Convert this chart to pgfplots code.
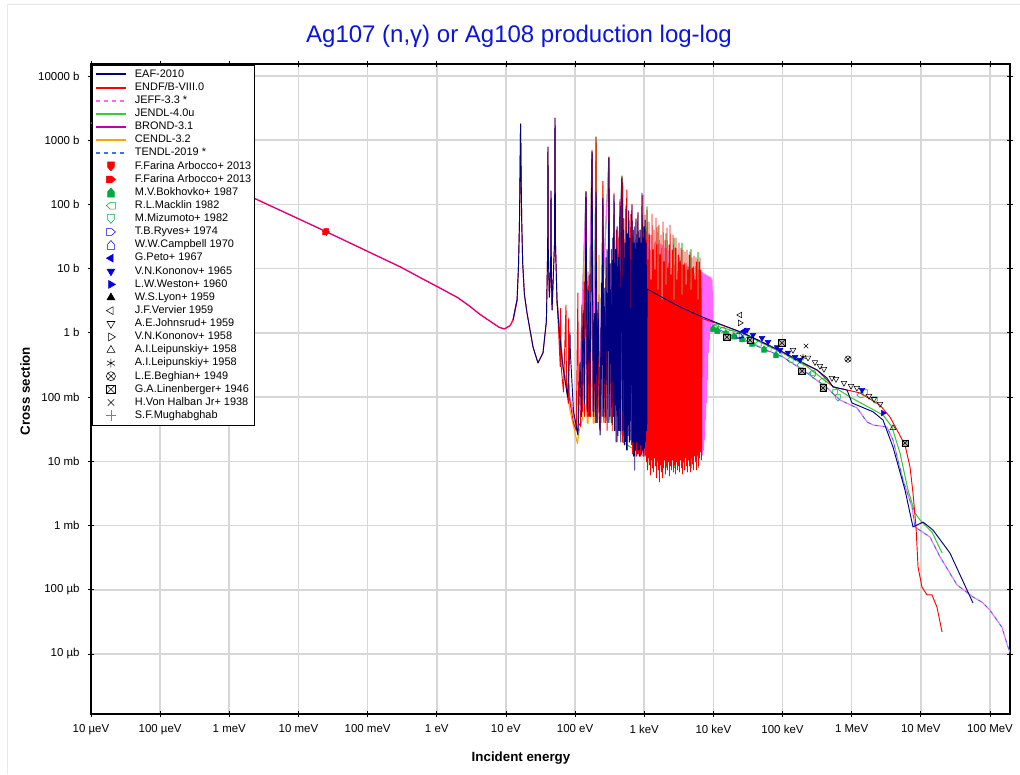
\documentclass[border=0pt]{standalone}
\usepackage{fontspec}
\setmainfont{Liberation Sans}
\usepackage{pgfplots}
\pgfplotsset{compat=1.18}
\usetikzlibrary{plotmarks}

\definecolor{eafc}{RGB}{0,0,128}
\definecolor{jeffc}{RGB}{255,102,255}
\definecolor{jendlc}{RGB}{60,200,60}
\definecolor{brondc}{RGB}{190,0,170}
\definecolor{cendlc}{RGB}{255,165,0}
\definecolor{tendlc}{RGB}{70,110,230}
\definecolor{ttl}{RGB}{10,20,220}
\definecolor{mgreen}{RGB}{0,170,60}
\definecolor{mblue}{RGB}{0,0,230}
\definecolor{gridc}{RGB}{215,215,215}

% pentagon "house" marks, rotated for the other directions
\pgfdeclareplotmark{house}{%
  \pgfpathmoveto{\pgfqpoint{-0.75\pgfplotmarksize}{-\pgfplotmarksize}}%
  \pgfpathlineto{\pgfqpoint{0.75\pgfplotmarksize}{-\pgfplotmarksize}}%
  \pgfpathlineto{\pgfqpoint{0.75\pgfplotmarksize}{0.15\pgfplotmarksize}}%
  \pgfpathlineto{\pgfqpoint{0pt}{\pgfplotmarksize}}%
  \pgfpathlineto{\pgfqpoint{-0.75\pgfplotmarksize}{0.15\pgfplotmarksize}}%
  \pgfpathclose
  \pgfusepathqstroke}
\pgfdeclareplotmark{house*}{%
  \pgfpathmoveto{\pgfqpoint{-0.75\pgfplotmarksize}{-\pgfplotmarksize}}%
  \pgfpathlineto{\pgfqpoint{0.75\pgfplotmarksize}{-\pgfplotmarksize}}%
  \pgfpathlineto{\pgfqpoint{0.75\pgfplotmarksize}{0.15\pgfplotmarksize}}%
  \pgfpathlineto{\pgfqpoint{0pt}{\pgfplotmarksize}}%
  \pgfpathlineto{\pgfqpoint{-0.75\pgfplotmarksize}{0.15\pgfplotmarksize}}%
  \pgfpathclose
  \pgfusepathqfillstroke}
\pgfdeclareplotmark{boxx}{%
  \pgfpathrectangle{\pgfqpoint{-\pgfplotmarksize}{-\pgfplotmarksize}}{\pgfqpoint{2\pgfplotmarksize}{2\pgfplotmarksize}}%
  \pgfusepathqfillstroke
  \pgfpathmoveto{\pgfqpoint{-\pgfplotmarksize}{-\pgfplotmarksize}}%
  \pgfpathlineto{\pgfqpoint{\pgfplotmarksize}{\pgfplotmarksize}}%
  \pgfpathmoveto{\pgfqpoint{-\pgfplotmarksize}{\pgfplotmarksize}}%
  \pgfpathlineto{\pgfqpoint{\pgfplotmarksize}{-\pgfplotmarksize}}%
  \pgfusepathqstroke}

\pgfplotsset{
  legline/.style={legend image code/.code={\draw[##1] (0pt,0pt) -- (22.5pt,0pt);}},
  legmark/.style={legend image code/.code={\draw[only marks,##1] plot coordinates {(11.25pt,0pt)};}},
  xs/.style={line width=0.8pt, line join=round},
  dat/.style={only marks, mark size=2.4pt},
}

\begin{document}
\begin{tikzpicture}
\path[use as bounding box] (0,0) rectangle (765pt,580.5pt);
\draw[gray!18, line width=0.75pt] (5.25pt,0pt) -- (5.25pt,576.75pt) -- (765pt,576.75pt);

\begin{axis}[
  at={(68.25pt,45pt)}, anchor=south west,
  scale only axis, width=689.25pt, height=487.5pt,
  xmode=log, ymode=log,
  xmin=1e-5, xmax=1.95e8, ymin=1.16e-6, ymax=1.54e4,
  xtick={1e-5,1e-4,1e-3,1e-2,1e-1,1,1e1,1e2,1e3,1e4,1e5,1e6,1e7,1e8},
  xticklabels={10 µeV,100 µeV,1 meV,10 meV,100 meV,1 eV,10 eV,100 eV,1 keV,10 keV,100 keV,1 MeV,10 MeV,100 MeV},
  ytick={1e-5,1e-4,1e-3,1e-2,1e-1,1,1e1,1e2,1e3,1e4},
  yticklabels={10 µb,100 µb,1 mb,10 mb,100 mb,1 b,10 b,100 b,1000 b,10000 b},
  xminorticks=false, yminorticks=false,
  grid=major, major grid style={gridc, line width=1.2pt},
  tick align=center, major tick length=5pt,
  tick style={black, line width=0.6pt},
  axis line style={line width=1pt},
  tick label style={font=\fontsize{8.6}{10}\selectfont},
  xticklabel style={yshift=-2pt},
  yticklabel style={xshift=-2.5pt},
  legend style={at={(0,1)}, anchor=north west, xshift=0.75pt, yshift=-0.75pt,
    draw=black, fill=white,
    font=\fontsize{8.2}{9.8}\selectfont,
    inner xsep=2pt, inner ysep=2pt, row sep=0pt, column sep=6pt,
    nodes={inner sep=0pt, text height=7pt, text depth=2.84pt}},
  legend cell align=left,
]

% ---------- legend ----------
\addlegendimage{legline, color=eafc, line width=1.5pt}\addlegendentry{EAF-2010}
\addlegendimage{legline, color=red, line width=1.5pt}\addlegendentry{ENDF/B-VIII.0}
\addlegendimage{legline, color=jeffc, dashed, line width=1.5pt}\addlegendentry{JEFF-3.3 *}
\addlegendimage{legline, color=jendlc, line width=1.5pt}\addlegendentry{JENDL-4.0u}
\addlegendimage{legline, color=brondc, line width=1.5pt}\addlegendentry{BROND-3.1}
\addlegendimage{legline, color=cendlc, line width=1.5pt}\addlegendentry{CENDL-3.2}
\addlegendimage{legline, color=tendlc, dashed, line width=1.5pt}\addlegendentry{TENDL-2019 *}
\addlegendimage{legmark, mark=house*, mark size=3.4pt, mark options={rotate=180, draw=red, fill=red}}\addlegendentry{F.Farina Arbocco+ 2013}
\addlegendimage{legmark, mark=house*, mark size=3.4pt, mark options={rotate=-90, draw=red, fill=red}}\addlegendentry{F.Farina Arbocco+ 2013}
\addlegendimage{legmark, mark=house*, mark size=3.4pt, mark options={draw=mgreen, fill=mgreen}}\addlegendentry{M.V.Bokhovko+ 1987}
\addlegendimage{legmark, mark=house, mark size=3.4pt, mark options={rotate=90, draw=mgreen}}\addlegendentry{R.L.Macklin 1982}
\addlegendimage{legmark, mark=house, mark size=3.4pt, mark options={rotate=180, draw=mgreen}}\addlegendentry{M.Mizumoto+ 1982}
\addlegendimage{legmark, mark=house, mark size=3.4pt, mark options={rotate=-90, draw=mblue}}\addlegendentry{T.B.Ryves+ 1974}
\addlegendimage{legmark, mark=house, mark size=3.4pt, mark options={draw=mblue}}\addlegendentry{W.W.Campbell 1970}
\addlegendimage{legmark, mark=triangle*, mark size=3.4pt, mark options={rotate=90, draw=mblue, fill=mblue}}\addlegendentry{G.Peto+ 1967}
\addlegendimage{legmark, mark=triangle*, mark size=3.4pt, mark options={rotate=180, draw=mblue, fill=mblue}}\addlegendentry{V.N.Kononov+ 1965}
\addlegendimage{legmark, mark=triangle*, mark size=3.4pt, mark options={rotate=-90, draw=mblue, fill=mblue}}\addlegendentry{L.W.Weston+ 1960}
\addlegendimage{legmark, mark=triangle*, mark size=3.4pt, mark options={draw=black, fill=black}}\addlegendentry{W.S.Lyon+ 1959}
\addlegendimage{legmark, mark=triangle, mark size=3.4pt, mark options={rotate=90, draw=black}}\addlegendentry{J.F.Vervier 1959}
\addlegendimage{legmark, mark=triangle, mark size=3.4pt, mark options={rotate=180, draw=black}}\addlegendentry{A.E.Johnsrud+ 1959}
\addlegendimage{legmark, mark=triangle, mark size=3.4pt, mark options={rotate=-90, draw=black}}\addlegendentry{V.N.Kononov+ 1958}
\addlegendimage{legmark, mark=triangle, mark size=3.4pt, mark options={draw=black}}\addlegendentry{A.I.Leipunskiy+ 1958}
\addlegendimage{legmark, mark=asterisk, mark size=3.4pt, mark options={draw=black}}\addlegendentry{A.I.Leipunskiy+ 1958}
\addlegendimage{legmark, mark=otimes, mark size=3.4pt, mark options={draw=black}}\addlegendentry{L.E.Beghian+ 1949}
\addlegendimage{legmark, mark=boxx, mark size=3.2pt, mark options={draw=black, fill=white}}\addlegendentry{G.A.Linenberger+ 1946}
\addlegendimage{legmark, mark=x, mark size=3.4pt, mark options={draw=black}}\addlegendentry{H.Von Halban Jr+ 1938}
\addlegendimage{legmark, mark=+, mark size=4pt, mark options={draw=gray}}\addlegendentry{S.F.Mughabghab}

% ---------- high energy dashed (TENDL / JEFF) ----------
\addplot[forget plot, xs, color=tendlc, dashed] coordinates {
(9880,1.24) (2.68e4,0.77) (1.02e5,0.42) (2.26e5,0.237) (4.4e5,0.139) (6.79e5,0.090)
(1.19e6,0.068) (1.67e6,0.041) (2.04e6,0.0368) (3.24e6,0.0342) (3.96e6,0.0215)
(5.53e6,0.00512) (7.46e6,0.00195) (8.24e6,0.00095) (1.36e7,0.00066) (1.9e7,0.000324)
(3.34e7,0.000119) (5.69e7,7.7e-5) (7.67e7,6.4e-5) (1e8,4.8e-5) (1.49e8,2.6e-5)
(1.82e8,1.29e-5) (2.08e8,9e-6)};
\addplot[forget plot, xs, color=jeffc, dash pattern=on 3pt off 3pt, dash phase=3pt] coordinates {
(9880,1.24) (2.68e4,0.77) (1.02e5,0.42) (2.26e5,0.237) (4.4e5,0.139) (6.79e5,0.090)
(1.19e6,0.068) (1.67e6,0.041) (2.04e6,0.0368) (3.24e6,0.0342) (3.96e6,0.0215)
(5.53e6,0.00512) (7.46e6,0.00195) (8.24e6,0.00095) (1.36e7,0.00066) (1.9e7,0.000324)
(3.34e7,0.000119) (5.69e7,7.7e-5) (7.67e7,6.4e-5) (1e8,4.8e-5) (1.49e8,2.6e-5)
(1.82e8,1.29e-5) (2.08e8,9e-6)};

% ---------- CENDL resonances ----------
\addplot[forget plot, xs, color=cendlc] coordinates {
(54.8,3.25) (67,0.28) (85,0.06) (108,0.019) (115,0.03) (130,0.05) (144,150) (150,0.04)
(154,0.039) (176,600) (183,0.04) (188,0.039) (201,900) (208,0.05) (216,0.08) (222,16.3)
(228,0.08) (240,0.04) (253,200) (262,0.04)};

% ---------- JENDL ----------
\addplot[forget plot, xs, color=jendlc] coordinates {
(54.8,3.25) (67,0.29) (110,0.026) (144,158) (150,0.05) (176,670) (184,0.05) (201,1130)
(208,0.04) (309,540) (318,0.04) (477,270) (490,0.02) (1000,0.012) (1098,92) (1117,0.008)
(1584,45) (1611,0.008) (2067,35) (2102,0.008) (2698,30) (2744,0.008) (3521,25) (3581,0.008)
(4750,20) (4831,0.008) (5995,18) (6097,0.008) (6200,1.78) (9880,1.33) (2.68e4,0.97)
(1.02e5,0.48) (2.26e5,0.30) (4.4e5,0.17) (9.46e5,0.10) (2.84e6,0.0526) (3.83e6,0.0342)
(5.0e6,0.0135) (6.53e6,0.00357) (8.24e6,0.00157) (9.73e6,0.00122) (1.45e7,0.00079)
(2.03e7,0.000373)};

% ---------- JEFF resonances (mostly hidden, visible 6.5-9.5 keV) ----------
\addplot[forget plot, xs, color=jeffc] coordinates {
(54.8,3.25) (67,0.29) (110,0.027) (144,140) (150,0.06) (176,600) (183,0.06) (201,150)
(207,0.05) (309,500) (318,0.05) (477,240) (490,0.03) (920,0.03) (929,140) (945,0.015)
(1000,0.012)
(1027,40) (1044,0.012) (1173,35) (1193,0.012) (1341,17) (1364,0.012)
(1532,20) (1558,0.012) (1750,24) (1780,0.012) (2000,21) (2034,0.012)
(2284,19) (2323,0.012) (2610,17) (2654,0.012) (3082,12) (3134,0.012)
(3405,13.5) (3463,0.012) (3890,12) (3956,0.012) (4444,10.7) (4520,0.012)
(5076,9.5) (5162,0.012) (5799,8.5) (5898,0.012) (6625,7.6) (6738,0.012)
(6850,8.87) (6966,0.0125) (7085,8.55) (7205,0.015) (7321,7.97) (7445,0.0215)
(7573,8.26) (7702,0.044) (7830,7.97) (7963,0.081) (8093,7.69) (8231,0.185)
(8368,7.69) (8510,0.49) (8650,7.41) (8797,0.77) (8944,7.41) (9096,1.11)
(9248,7.16) (9405,1.33) (9559,6.66) (9880,1.24)};

% ---------- low energy part (common to all evaluations) ----------
\addplot[forget plot, xs, color=jeffc, line width=1.1pt] coordinates {
(1e-5,1890) (1e-4,598) (1e-3,189) (1e-2,59.8) (0.0253,37.6) (0.1,18.6) (0.3,10.6)
(0.6,7.1) (1,5.3) (1.5,4.2) (2,3.55) (3,2.6) (4.2,1.95) (6,1.5) (8,1.22) (9.5,1.15)
(11.5,1.3) (12.7,1.59) (14.5,3.25)};
\addplot[forget plot, xs, color=red, line width=0.7pt] coordinates {
(1e-5,1890) (1e-4,598) (1e-3,189) (1e-2,59.8) (0.0253,37.6) (0.1,18.6) (0.3,10.6)
(0.6,7.1) (1,5.3) (1.5,4.2) (2,3.55) (3,2.6) (4.2,1.95) (6,1.5) (8,1.22) (9.5,1.15)
(11.5,1.3) (12.7,1.59) (14.5,3.25)
(15.2,10.6) (15.7,50) (16.0,300) (16.3,1790) (16.6,300) (16.9,60) (17.5,12) (18.5,4)
(20.2,2.04) (24.7,0.60) (29.1,0.34) (34.4,0.49) (38.5,1.5) (40.2,20) (40.6,780) (41.0,20)
(42.5,3.6) (44.4,10) (44.9,162) (45.4,10) (46.5,2.27) (50.5,25) (51.3,2220) (52.1,25)
(54.8,3.25)};
\addplot[forget plot, xs, color=brondc, line width=0.35pt] coordinates {
(1e-5,1890) (1e-4,598) (1e-3,189) (1e-2,59.8) (0.0253,37.6) (0.1,18.6) (0.3,10.6)
(0.6,7.1) (1,5.3) (1.5,4.2) (2,3.55) (3,2.6) (4.2,1.95) (6,1.5) (8,1.22) (9.5,1.15)
(11.5,1.3)};

% ---------- ENDF/B-VIII.0 ----------
\addplot[forget plot, xs, color=red, line width=0.7pt] coordinates {
(54.8,3.25) (58,1.0) (61,0.3) (62,2.4) (63,0.3) (68,0.12) (74,2.7) (75,0.15) (80,0.08)
(81,1.7) (82,0.1) (95,0.04) (104,0.03) (110,4.2) (112,0.04) (120,0.035) (126,2.7)
(128,0.06) (135,6.2) (137,0.05) (144,160) (150,0.05) (154,8.9) (157,0.05) (162,8)
(168,0.05) (176,700) (184,0.05) (193,1.2) (197,0.04) (201,1122) (208,0.04) (215,2.0)
(222,0.05) (230,0.03) (253,230) (262,0.04) (280,15) (290,0.03) (309,550) (318,0.05)
(335,20) (345,0.03) (366,150) (374,0.03) (395,40) (405,0.02) (430,30) (437,0.03)
(447,120) (456,0.03) (477,280) (484,0.02) (490,216) (498,0.02) (510,60) (520,0.02)
(560,168) (572,0.015) (598,80) (610,0.02) (640,70) (652,0.018) (666,100) (680,0.013)
(700,40) (712,0.012) (761,60) (775,0.012) (813,75) (830,0.013) (870,40) (885,0.012)
(960,140) (975,0.012) (1000,0.0125)
(1027,68.5) (1044,0.0125) (1062,27.9) (1080,0.00976) (1098,81.9) (1117,0.00732)
(1135,13.6) (1154,0.0113) (1173,53.3) (1193,0.00876) (1213,33.4) (1234,0.00612)
(1254,6.66) (1275,0.0105) (1297,71.0) (1319,0.00787) (1341,19.5) (1364,0.00682)
(1386,40.0) (1410,0.0113) (1433,9.5) (1457,0.00846) (1482,61.5) (1507,0.0055)
(1532,23.4) (1558,0.00976) (1584,4.65) (1611,0.00732) (1637,47.8) (1665,0.00476)
(1693,16.3) (1722,0.00876) (1750,33.4) (1780,0.00682) (1809,3.25) (1840,0.0055)
(1871,53.3) (1903,0.00787) (1934,12.7) (1967,0.0105) (2000,27.9) (2034,0.00635)
(2067,5.57) (2102,0.00846) (2137,43.0) (2173,0.00732) (2210,10.2) (2248,0.00976)
(2284,23.4) (2323,0.00591) (2362,47.8) (2402,0.00846) (2442,7.97) (2484,0.00732)
(2524,19.5) (2567,0.0105) (2610,33.4) (2654,0.00682) (2698,3.25) (2744,0.00876)
(2789,21.0) (2836,0.00635) (2884,30.0) (2933,0.00976) (2981,6.66) (3032,0.00732)
(3082,16.3) (3134,0.00846) (3186,25.1) (3240,0.00682) (3294,12.7) (3350,0.0105)
(3405,21.0) (3463,0.00787) (3521,3.89) (3581,0.00635) (3640,19.5) (3702,0.00976)
(3763,11.4) (3827,0.00732) (3890,18.2) (3956,0.0113) (4022,5.57) (4090,0.00846)
(4158,19.5) (4229,0.00682) (4299,9.5) (4372,0.0105) (4444,16.3) (4520,0.00846)
(4594,18.2) (4672,0.00682) (4750,4.65) (4831,0.0113) (4910,14.7) (4993,0.00909)
(5076,10.2) (5162,0.00732) (5248,15.7) (5337,0.0121) (5426,6.66) (5518,0.00976)
(5609,14.7) (5704,0.00732) (5799,12.7) (5898,0.0125) (5995,3.25) (6097,0.00846)
(6198,12.7) (6303,0.0113) (6408,14.7) (6517,0.014) (6625,9.5) (6738,0.0105)
(6850,1.68) (1.25e4,1.35) (2.68e4,1.0) (1.02e5,0.50) (2.26e5,0.316) (3.16e5,0.264)
(4.4e5,0.185) (5.37e5,0.144) (8.57e5,0.129) (1.32e6,0.116) (2.57e6,0.075) (3.58e6,0.049)
(4.53e6,0.0308) (5.91e6,0.0179) (6.98e6,0.00817) (7.71e6,0.00321) (8.53e6,0.00095)
(9.12e6,0.000226) (1.04e7,0.000110) (1.23e7,8.3e-5) (1.45e7,8.3e-5) (1.71e7,5.4e-5)
(2.03e7,2.2e-5)};

% ---------- EAF-2010 ----------
\addplot[forget plot, xs, color=eafc, line width=0.7pt] coordinates {
(12.7,1.59) (14.5,3.25) (15.2,10.6) (15.7,50) (16.0,300) (16.3,1790) (16.6,300) (16.9,60)
(17.5,12) (18.5,4) (20.2,2.04) (24.7,0.60) (29.1,0.34) (34.4,0.49) (38.5,1.5) (40.2,20)
(40.6,780) (41.0,20) (42.5,3.6) (44.4,10) (44.9,162) (45.4,10) (46.5,2.27) (50.5,25)
(51.3,2220) (52.1,25) (54.8,3.25)
(60,0.9) (67,0.294) (78,0.10) (83.5,0.5) (84.5,1.0) (85.5,0.5) (95,0.06) (110,0.0257)
(118,0.35) (124,0.05) (131,2.0) (137,0.08) (144,156) (150,0.06) (157,4.5) (163,0.05)
(176,656) (183,0.06) (190,2.0) (196,0.05) (201,156) (207,0.04) (215,3.0) (230,0.0257)
(240,6.0) (246,0.05) (253,125) (260,0.05) (270,5.0) (278,0.04) (290,20) (300,0.04)
(309,529) (318,0.05) (330,12) (340,0.04) (352,30) (360,0.05) (366,140) (374,0.03)
(385,20) (393,0.02) (405,45) (415,0.025) (425,15) (435,0.03) (447,110) (458,0.02)
(477,258) (490,0.03) (505,40) (518,0.018) (530,25) (537,0.02) (545,95) (556,0.015)
(570,35) (583,0.025) (598,78) (610,0.02) (622,30) (640,0.0215) (666,98) (680,0.02)
(690,25) (700,0.012) (718,45) (730,0.0073) (745,20) (752,0.015) (761,58) (775,0.02)
(790,25) (800,0.013) (813,74) (830,0.015) (845,30) (860,0.012) (875,40) (890,0.018)
(905,25) (915,0.013) (929,150) (945,0.015) (960,30) (975,0.0135) (990,45) (1005,0.016)
(1030,57) (1045,0.02) (1070,25) (1085,0.03) (1095,0.05)
(1100,4.82) (2140,3.25) (3300,2.53) (6410,1.83) (1.25e4,1.37) (2.68e4,1.0) (1.02e5,0.50)
(2.26e5,0.316) (3.16e5,0.264) (4.4e5,0.198) (5.37e5,0.144) (8.57e5,0.129) (1.01e6,0.081)
(2.04e6,0.059) (2.84e6,0.044) (3.96e6,0.0167) (5.91e6,0.00357) (7.71e6,0.00095)
(1.08e7,0.00113) (1.5e7,0.00085) (2.64e7,0.000373) (5.69e7,6.2e-5)};

% ---------- experimental data ----------
\addplot[forget plot, dat, mark=+, mark size=3pt, mark options={draw=gray}] coordinates {(0.0253,37.6)};
\addplot[forget plot, dat, mark=house*, mark options={rotate=180, draw=red, fill=red}] coordinates {(0.0253,37.6)};
\addplot[forget plot, dat, mark=house*, mark options={rotate=-90, draw=red, fill=red}] coordinates {(0.0250,36.5)};
\addplot[forget plot, dat, mark=house*, mark options={draw=mgreen, fill=mgreen}] coordinates {
(9880,1.17) (1.14e4,1.09) (1.52e4,0.995) (1.99e4,0.90) (2.60e4,0.81) (3.62e4,0.69)
(5.40e4,0.56) (8.05e4,0.457)};
\addplot[forget plot, dat, mark=house, mark options={rotate=90, draw=mgreen}] coordinates {
(1.06e4,1.24) (1.33e4,1.11) (1.74e4,1.0) (2.27e4,0.93) (3.17e4,0.80) (4.43e4,0.68)
(6.17e4,0.56) (8.61e4,0.48) (1.28e5,0.38) (1.79e5,0.316) (2.67e5,0.237) (3.72e5,0.178)
(1.32e6,0.108)};
\addplot[forget plot, dat, mark=house, mark options={rotate=180, draw=mgreen}] coordinates {
(2.76e5,0.221) (5.74e5,0.116) (6.35e5,0.097) (1.56e6,0.116) (2.18e6,0.090)};
\addplot[forget plot, dat, mark=house, mark options={rotate=-90, draw=mblue}] coordinates {(2.43e4,0.89)};
\addplot[forget plot, dat, mark=house, mark options={draw=mblue}] coordinates {(2.55e4,0.95)};
\addplot[forget plot, dat, mark=triangle*, mark options={rotate=90, draw=mblue, fill=mblue}] coordinates {(2.8e4,1.08)};
\addplot[forget plot, dat, mark=triangle*, mark options={rotate=180, draw=mblue, fill=mblue}] coordinates {
(3.07e4,1.11) (3.74e4,0.93) (5.05e4,0.83) (6.17e4,0.72) (8.32e4,0.60) (9.2e4,0.54)
(1.2e5,0.49) (1.52e5,0.42) (1.79e5,0.38) (1.41e6,0.129)};
\addplot[forget plot, dat, mark=triangle*, mark options={rotate=-90, draw=mblue, fill=mblue}] coordinates {(2.84e6,0.0565)};
\addplot[forget plot, dat, mark=triangle, mark options={rotate=90, draw=black}] coordinates {(2.43e4,1.90)};
\addplot[forget plot, dat, mark=triangle, mark options={rotate=-90, draw=black}] coordinates {(2.43e4,1.43)};
\addplot[forget plot, dat, mark=triangle, mark options={rotate=180, draw=black}] coordinates {
(1.42e5,0.54) (2.34e5,0.41) (2.95e5,0.35) (3.48e5,0.305) (3.98e5,0.274) (5.20e5,0.198)
(5.94e5,0.191) (7.75e5,0.166) (9.79e5,0.149) (1.19e6,0.139) (1.78e6,0.104) (2.10e6,0.093)
(2.57e6,0.078)};
\addplot[forget plot, dat, mark=triangle, mark options={draw=black}] coordinates {(3.96e6,0.033)};
\addplot[forget plot, dat, mark=asterisk, mark options={draw=black}] coordinates {(1.98e5,0.42)};
\addplot[forget plot, dat, mark=otimes, mark options={draw=black}] coordinates {(8.85e5,0.39)};
\addplot[forget plot, dat, mark=boxx, mark options={draw=black, fill=gray!60}] coordinates {
(1.57e4,0.86) (3.39e4,0.77) (9.8e4,0.70) (1.91e5,0.255) (3.85e5,0.139) (5.91e6,0.0193)};
\addplot[forget plot, dat, mark=x, mark options={draw=black}] coordinates {(2.19e5,0.625)};
\end{axis}

\node[font=\fontsize{18}{21}\selectfont, text=ttl] at (389.25pt,553.5pt)
  {Ag107 (n,γ) or Ag108 production log-log};
\node[font=\fontsize{10}{12}\selectfont\bfseries, rotate=90] at (18.75pt,287.25pt) {Cross section};
\node[font=\fontsize{10}{12}\selectfont\bfseries] at (390.75pt,12pt) {Incident energy};
\end{tikzpicture}
\end{document}
